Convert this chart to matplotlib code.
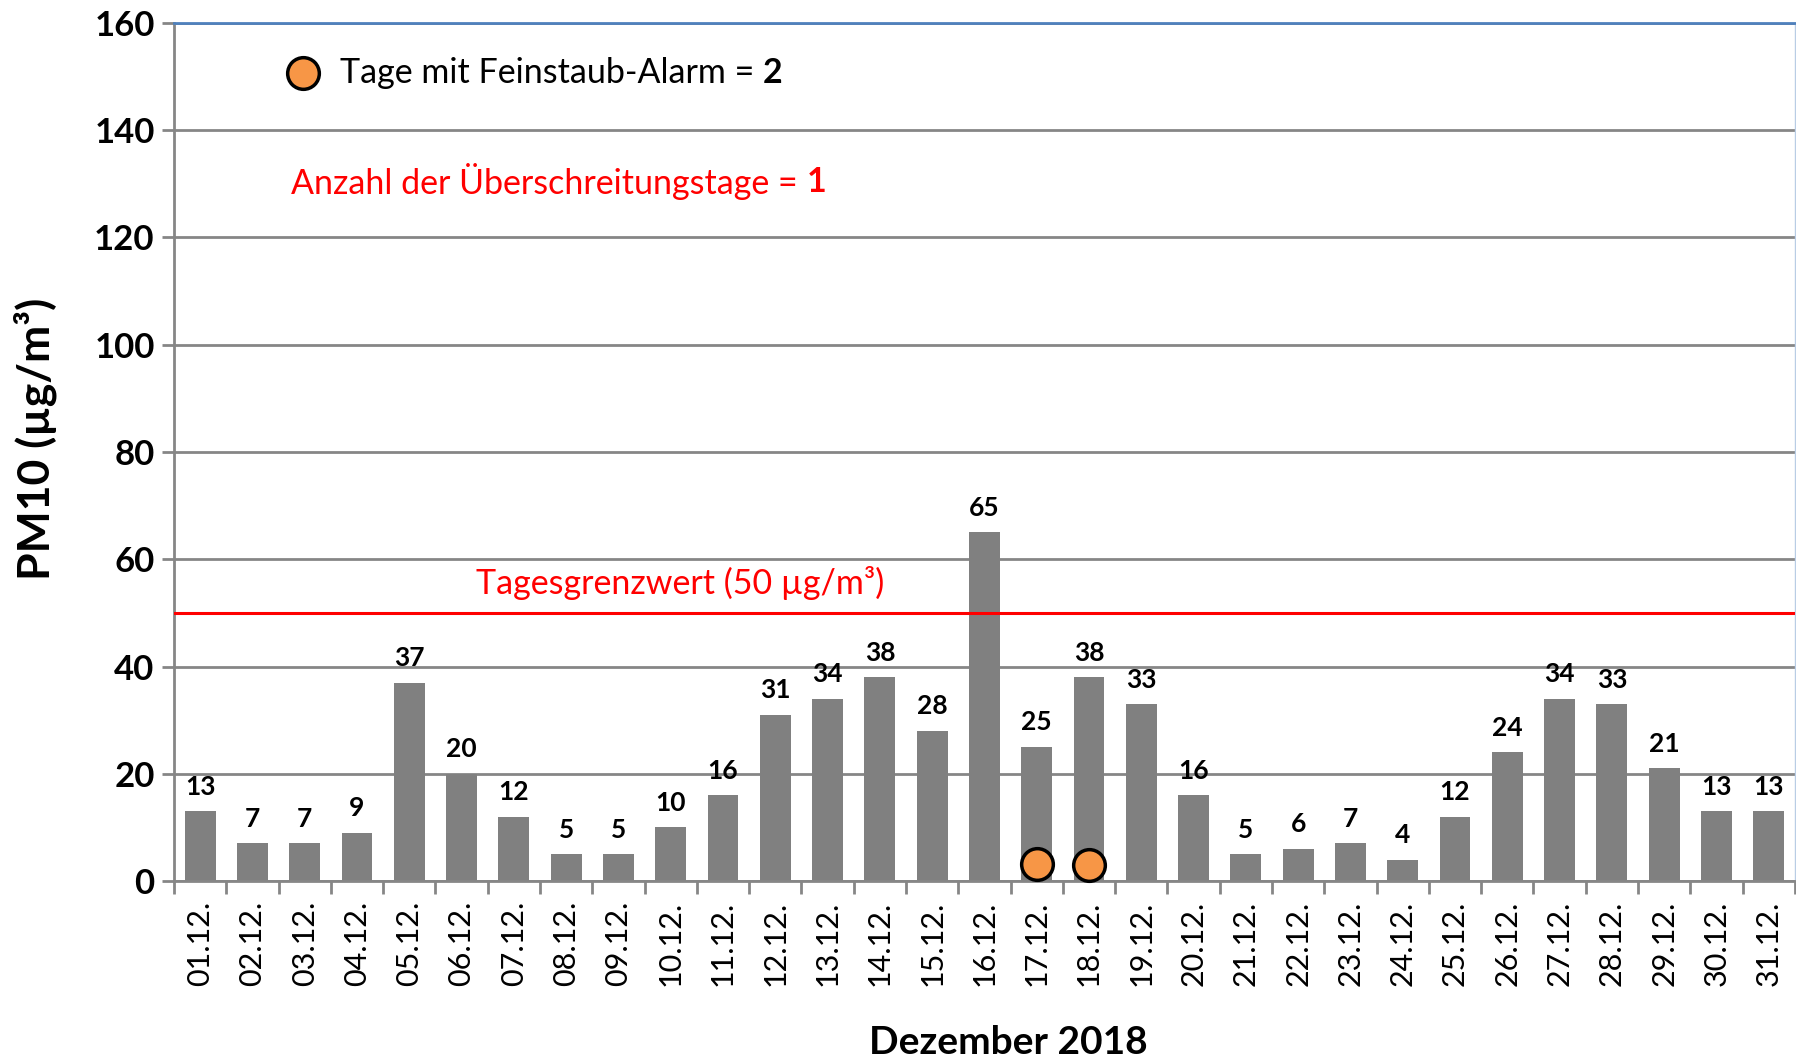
import matplotlib
matplotlib.use("Agg")
import matplotlib.pyplot as plt
import numpy as np

plt.rcParams["font.family"] = ["Lato", "DejaVu Sans"]

# Daily PM10 means, December 2018
days = [f"{d:02d}.12." for d in range(1, 32)]
pm10 = [13, 7, 7, 9, 37, 20, 12, 5, 5, 10, 16, 31, 34, 38, 28, 65,
        25, 38, 33, 16, 5, 6, 7, 4, 12, 24, 34, 33, 21, 13, 13]
alarm_days = ["17.12.", "18.12."]
alarm_marker_y = [3.2, 3.0]
limit_value = 50
y_ticks = [0, 20, 40, 60, 80, 100, 120, 140, 160]

grid_grey = "#868686"
bar_grey = "#808080"
orange = "#F79646"

fig = plt.figure(figsize=(17.96, 10.63), dpi=100)
ax = fig.add_axes([0.0969, 0.1712, 0.9025, 0.8072])

x = np.arange(len(days))
ax.bar(x, pm10, width=0.59, color=bar_grey, zorder=2)

for xi, v in zip(x, pm10):
    ax.annotate(str(v), (xi, v), xytext=(0, 9), textcoords="offset points",
                ha="center", va="bottom", fontsize=19, fontweight="bold",
                color="black", zorder=4)

# threshold line
ax.axhline(limit_value, color="#FF0000", lw=2.2, zorder=3)
ax.text(9.17, 55.5, "Tagesgrenzwert (50 µg/m³)", color="#FF0000",
        fontsize=24.5, ha="center", va="center")

# alarm days
alarm_x = [days.index(d) for d in alarm_days]
ax.scatter(alarm_x, alarm_marker_y, s=520, color=orange, edgecolor="black",
           linewidth=2.5, zorder=5, clip_on=False)

# legend-like annotations
ax.scatter([1.97], [150.6], s=520, color=orange, edgecolor="black",
           linewidth=2.5, zorder=5)
t1 = ax.text(2.67, 150.6, "Tage mit Feinstaub-Alarm = ", fontsize=24.5,
             ha="left", va="center", color="black")
ax.annotate(str(len(alarm_days)), xy=(1, 0.5), xycoords=t1, ha="left",
            va="center", fontsize=24.5, fontweight="bold", color="black")

n_exceed = sum(1 for v in pm10 if v > limit_value)
t2 = ax.text(1.74, 130.4, "Anzahl der Überschreitungstage = ", fontsize=24.5,
             ha="left", va="center", color="#FF0000")
ax.annotate(str(n_exceed), xy=(1, 0.5), xycoords=t2, ha="left",
            va="center", fontsize=24.5, fontweight="bold", color="#FF0000")

# axes styling
ax.set_xlim(-0.5, len(days) - 0.5)
ax.set_ylim(0, 160)
ax.set_yticks(y_ticks)
ax.set_yticklabels([str(t) for t in y_ticks], fontsize=25, fontweight="bold")
ax.yaxis.grid(True, color=grid_grey, lw=2, zorder=0)
ax.set_axisbelow(True)

ax.set_xticks(x)
ax.set_xticklabels(days, rotation=90, fontsize=22)
ax.set_xticks(np.arange(-0.5, len(days)), minor=True)
ax.tick_params(axis="x", which="major", length=0, pad=14)
ax.tick_params(axis="x", which="minor", length=9, width=2, color=grid_grey,
               direction="out")
ax.tick_params(axis="y", length=9, width=2, color=grid_grey, pad=5)

for side in ("left", "bottom"):
    ax.spines[side].set_color(grid_grey)
    ax.spines[side].set_linewidth(2)
ax.spines["top"].set_color("#4F81BD")
ax.spines["top"].set_linewidth(2)
ax.spines["right"].set_color("#B9CDE5")
ax.spines["right"].set_linewidth(1)

ax.set_ylabel("PM10 (µg/m³)", fontsize=32, fontweight="bold")
ax.yaxis.set_label_coords(-0.072, 0.515)
ax.set_xlabel("Dezember 2018", fontsize=28, fontweight="bold")
ax.xaxis.set_label_coords(0.515, -0.168)

fig.savefig("out.png", dpi=100)
